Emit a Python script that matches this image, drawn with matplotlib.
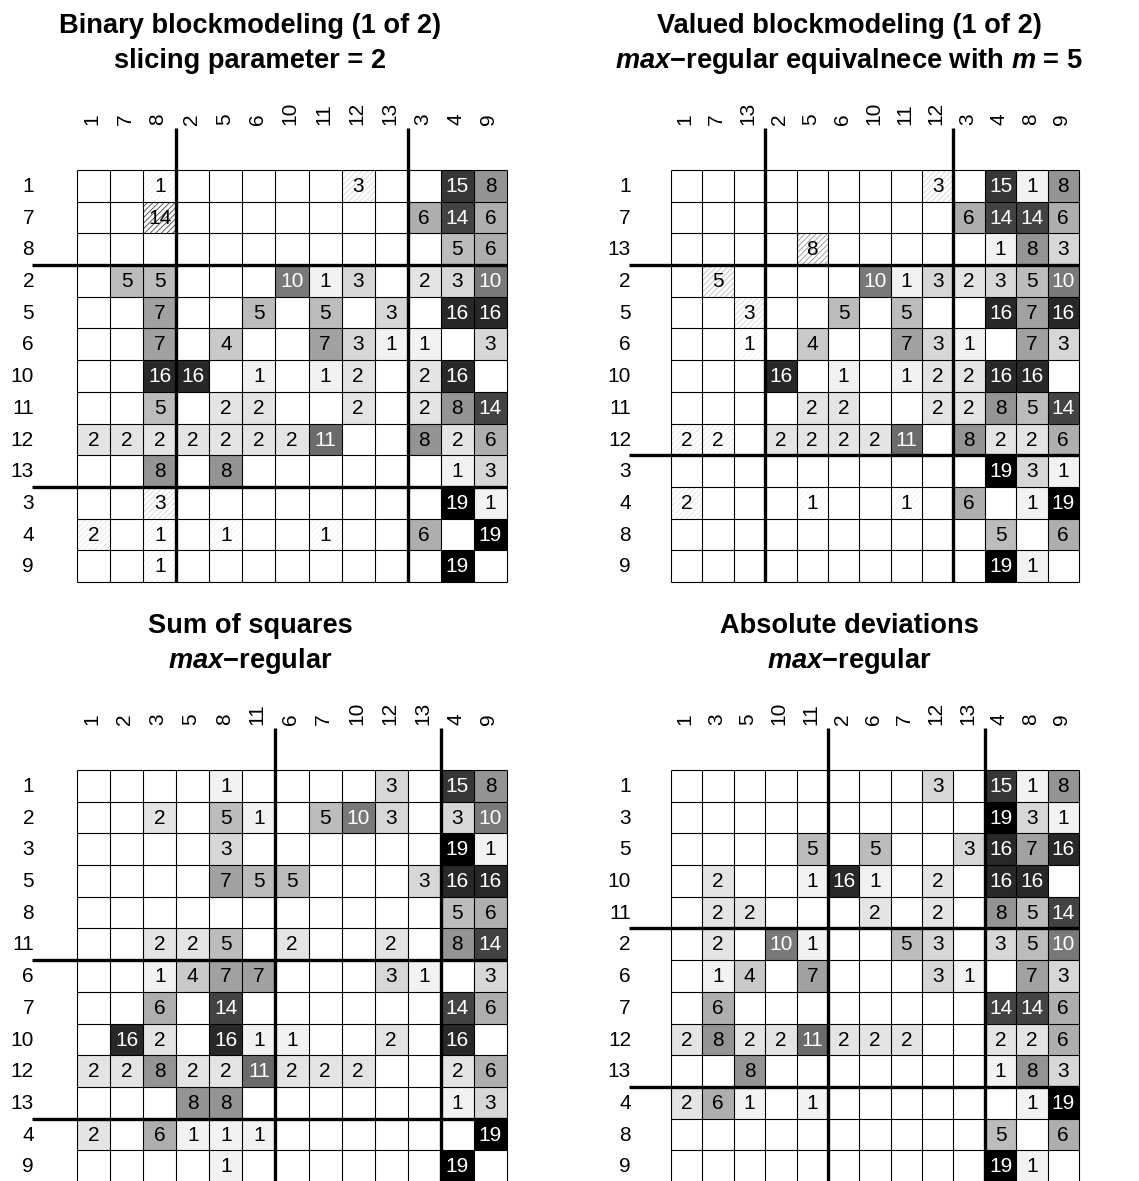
import matplotlib
matplotlib.use("Agg")
import matplotlib.pyplot as plt
from matplotlib.patches import Rectangle
from matplotlib.transforms import blended_transform_factory

plt.rcParams['font.family'] = ['Liberation Sans', 'DejaVu Sans']
plt.rcParams['mathtext.fontset'] = 'custom'
plt.rcParams['mathtext.rm'] = 'Liberation Sans:bold'
plt.rcParams['mathtext.it'] = 'Liberation Sans:bold:italic'
plt.rcParams['hatch.linewidth'] = 0.6

# ---------------- data ----------------
actors = [1, 2, 3, 4, 5, 6, 7, 8, 9, 10, 11, 12, 13]
# valued network: ties[i][j] = value of tie from actor i+1 to actor j+1
ties = [
    [0, 0, 0, 15, 0, 0, 0, 1, 8, 0, 0, 3, 0],
    [0, 0, 2, 3, 0, 0, 5, 5, 10, 10, 1, 3, 0],
    [0, 0, 0, 19, 0, 0, 0, 3, 1, 0, 0, 0, 0],
    [2, 0, 6, 0, 1, 0, 0, 1, 19, 0, 1, 0, 0],
    [0, 0, 0, 16, 0, 5, 0, 7, 16, 0, 5, 0, 3],
    [0, 0, 1, 0, 4, 0, 0, 7, 3, 0, 7, 3, 1],
    [0, 0, 6, 14, 0, 0, 0, 14, 6, 0, 0, 0, 0],
    [0, 0, 0, 5, 0, 0, 0, 0, 6, 0, 0, 0, 0],
    [0, 0, 0, 19, 0, 0, 0, 1, 0, 0, 0, 0, 0],
    [0, 16, 2, 16, 0, 1, 0, 16, 0, 0, 1, 2, 0],
    [0, 0, 2, 8, 2, 2, 0, 5, 14, 0, 0, 2, 0],
    [2, 2, 8, 2, 2, 2, 2, 2, 6, 2, 11, 0, 0],
    [0, 0, 0, 1, 8, 0, 0, 8, 3, 0, 0, 0, 0],
]

order_binary = [1, 7, 8, 2, 5, 6, 10, 11, 12, 13, 3, 4, 9]
order_valued = [1, 7, 13, 2, 5, 6, 10, 11, 12, 3, 4, 8, 9]
order_ss = [1, 2, 3, 5, 8, 11, 6, 7, 10, 12, 13, 4, 9]
order_ad = [1, 3, 5, 10, 11, 2, 6, 7, 12, 13, 4, 8, 9]

sizes_binary = [3, 7, 3]
sizes_valued = [3, 6, 4]
sizes_ss = [6, 5, 2]
sizes_ad = [5, 5, 3]

null_binary = [(0, 0), (0, 1), (2, 0), (2, 1)]
null_valued = [(0, 0), (0, 1), (1, 0), (2, 0), (2, 1)]
null_ss = []
null_ad = []

titles_1 = ["Binary blockmodeling (1 of 2)", "Valued blockmodeling (1 of 2)",
            "Sum of squares", "Absolute deviations"]
titles_2 = ["slicing parameter = 2",
            r"$\mathit{max}$" + "\u2212regular equivalnece with " + r"$\mathit{m}$" + " = 5",
            r"$\mathit{max}$" + "\u2212regular",
            r"$\mathit{max}$" + "\u2212regular"]

vmax = 19

# ---------------- layout (pixels) ----------------
W, H = 1139, 1181
fig = plt.figure(figsize=(W / 100, H / 100), dpi=100)

# left, right, top, bottom, row-label right edge, title centre x, y offset
boxes = [
    (77, 507, 170, 582, 34, 250, 0),
    (671, 1079, 170, 582, 631, 849, 0),
    (77, 507, 770, 1182, 34, 250, 600),
    (671, 1079, 770, 1182, 631, 849, 600),
]
orders = [order_binary, order_valued, order_ss, order_ad]
sizes = [sizes_binary, sizes_valued, sizes_ss, sizes_ad]
nulls = [null_binary, null_valued, null_ss, null_ad]

CELL_FS = 15
LAB_FS = 15
TITLE_FS = 19.6


def gray(v):
    g = 1 - v / vmax
    return (g, g, g)


for p in range(4):
    left, right, top, bottom, labx, tcx, yoff = boxes[p]
    order = orders[p]
    n = len(order)
    ax = fig.add_axes([left / W, (H - bottom) / H, (right - left) / W, (bottom - top) / H])
    ax.set_xlim(0, n)
    ax.set_ylim(n, 0)
    ax.axis('off')

    # cluster membership of each position
    clus = []
    for k, s in enumerate(sizes[p]):
        clus += [k] * s

    for i, a in enumerate(order):
        for j, b in enumerate(order):
            v = ties[a - 1][b - 1]
            if v == 0:
                continue
            hatched = (clus[i], clus[j]) in nulls[p]
            if hatched:
                ax.add_patch(Rectangle((j, i), 1, 1, facecolor='white',
                                       edgecolor=gray(v), hatch='//////',
                                       linewidth=0, zorder=1))
                tc = 'black'
            else:
                ax.add_patch(Rectangle((j, i), 1, 1, facecolor=gray(v),
                                       edgecolor='none', linewidth=0, zorder=1))
                tc = 'white' if v > vmax / 2 else 'black'
            ax.text(j + 0.5, i + 0.52, str(v), ha='center', va='center',
                    fontsize=CELL_FS, color=tc, zorder=5)

    # thin grid
    for k in range(n + 1):
        ax.plot([k, k], [0, n], color='black', lw=0.8, zorder=3, clip_on=False,
                solid_capstyle='butt')
        ax.plot([0, n], [k, k], color='black', lw=0.8, zorder=3, clip_on=False,
                solid_capstyle='butt')

    colw = (right - left) / n
    rowh = (bottom - top) / n
    y_ext = -(top - (128 + yoff)) / rowh
    x_ext = -(left - (labx - 2)) / colw
    cum = 0
    for s in sizes[p][:-1]:
        cum += s
        ax.plot([cum, cum], [n, y_ext], color='black', lw=2.4, zorder=6,
                clip_on=False, solid_capstyle='butt')
        ax.plot([x_ext, n], [cum, cum], color='black', lw=2.4, zorder=6,
                clip_on=False, solid_capstyle='butt')

    # labels
    tr_row = blended_transform_factory(fig.transFigure, ax.transData)
    tr_col = blended_transform_factory(ax.transData, fig.transFigure)
    for i, a in enumerate(order):
        ax.text(labx / W, i + 0.52, str(a), transform=tr_row, ha='right',
                va='center', fontsize=LAB_FS)
        ax.text(i + 0.45, (H - (125 + yoff)) / H, str(a), transform=tr_col,
                ha='center', va='bottom', rotation=90, fontsize=LAB_FS)

    fig.text(tcx / W, (H - (33 + yoff)) / H, titles_1[p], ha='center',
             va='baseline', fontsize=TITLE_FS, fontweight='bold')
    fig.text(tcx / W, (H - (68 + yoff)) / H, titles_2[p], ha='center',
             va='baseline', fontsize=TITLE_FS, fontweight='bold')

fig.savefig("out.png", dpi=100)
